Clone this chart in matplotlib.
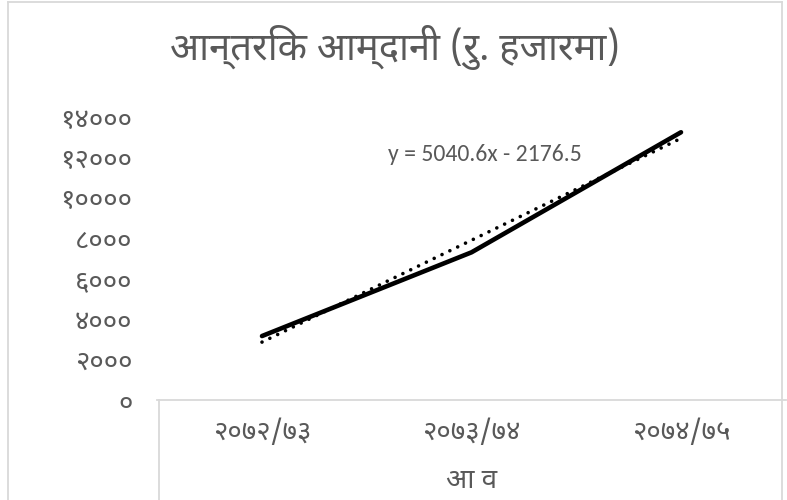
import matplotlib
matplotlib.use('Agg')
import matplotlib.pyplot as plt
from matplotlib.lines import Line2D

# data
years = ['२०७२/७३', '२०७३/७४', '२०७४/७५']
income = [3164, 7305, 13245]
trend_slope = 5040.6
trend_intercept = -2176.5
trend_label = 'y = 5040.6x - 2176.5'
yticks = [0, 2000, 4000, 6000, 8000, 10000, 12000, 14000]

deva = str.maketrans('0123456789', '०१२३४५६७८९')
ytick_labels = [str(v).translate(deva) for v in yticks]

gray = '#595959'
border = '#d9d9d9'
dfont = 'Noto Sans Devanagari'

W, H = 787, 500
fig = plt.figure(figsize=(W / 100, H / 100), dpi=100)
ax = fig.add_axes([157.25 / W, 1 - 400 / H, 628.5 / W, (400 - 117) / H])

x = list(range(len(years)))
ax.plot(x, income, color='black', lw=3.3, solid_capstyle='round', zorder=3)
trend = [trend_slope * (i + 1) + trend_intercept for i in x]
ax.plot(x, trend, color='black', lw=2.6, linestyle=(0, (0.01, 2.4)),
        dash_capstyle='round', zorder=2)

ax.set_xlim(-0.5, 2.5)
ax.set_ylim(0, 14000)
ax.set_xticks(x)
ax.set_xticklabels(years, family=dfont, fontsize=20, color=gray)
ax.set_yticks(yticks)
ax.set_yticklabels(ytick_labels, family=dfont, fontsize=20, color=gray)
ax.tick_params(axis='y', length=0, pad=18)
ax.tick_params(axis='x', length=0, pad=14)
for s in ['top', 'right', 'left']:
    ax.spines[s].set_visible(False)
ax.spines['bottom'].set_color(border)
ax.spines['bottom'].set_linewidth(1.3)

ax.set_xlabel('आ व', family=dfont, fontsize=20, color=gray, labelpad=14)

ax.text(0.6, 12150, trend_label, family='Carlito', fontsize=17, color=gray,
        va='center')

fig.text(395 / W, 1 - 48 / H, 'आन्तरिक आम्दानी (रु. हजारमा)', family=dfont,
         fontsize=27.5, color=gray, ha='center', va='center')

# outer frame of the chart and the box under the plot area
fig.add_artist(Line2D([8 / W, 8 / W], [0, 1 - 2 / H], color=border, lw=1.3))
fig.add_artist(Line2D([8 / W, 782 / W], [1 - 2 / H, 1 - 2 / H], color=border, lw=1.3))
fig.add_artist(Line2D([782 / W, 782 / W], [0, 1 - 2 / H], color=border, lw=1.3))
fig.add_artist(Line2D([159 / W, 159 / W], [0, 1 - 400 / H], color=border, lw=1.3))

fig.savefig('out.png', dpi=100)
